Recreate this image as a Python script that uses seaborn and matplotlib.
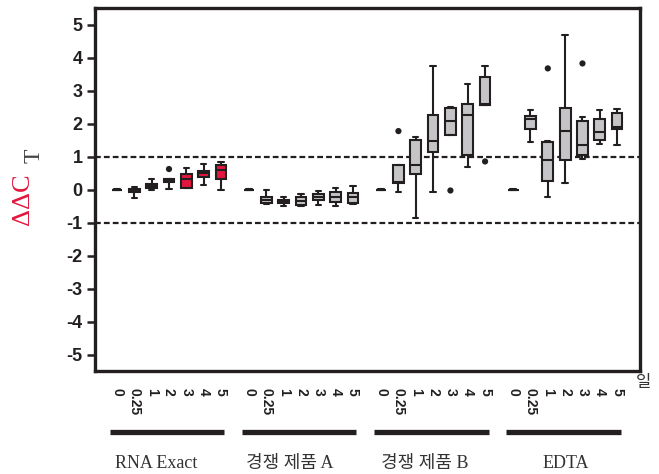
import numpy as np
import pandas as pd
import matplotlib
matplotlib.use("Agg")
import matplotlib.pyplot as plt
import seaborn as sns
from matplotlib.transforms import blended_transform_factory, ScaledTranslation

# ---------------- data ----------------
groups = ["RNA Exact", "경쟁 제품 A", "경쟁 제품 B", "EDTA"]
days = ["0", "0.25", "1", "2", "3", "4", "5"]

# five-number summaries per group (order of days)
rna_lo  = [0, -0.25, -0.02, 0.02, 0.05, 0.14, -0.02]
rna_q1  = [-0.01, -0.07, 0.05, 0.23, 0.05, 0.39, 0.33]
rna_med = [0, -0.03, 0.12, 0.29, 0.32, 0.49, 0.60]
rna_q3  = [0.01, 0.01, 0.18, 0.33, 0.48, 0.56, 0.73]
rna_hi  = [0, 0.07, 0.32, 0.33, 0.65, 0.77, 0.83]

a_lo  = [0, -0.43, -0.50, -0.50, -0.46, -0.50, -0.43]
a_q1  = [-0.01, -0.40, -0.40, -0.48, -0.31, -0.39, -0.40]
a_med = [0, -0.31, -0.35, -0.36, -0.23, -0.22, -0.23]
a_q3  = [0.01, -0.23, -0.31, -0.23, -0.15, -0.08, -0.12]
a_hi  = [0, -0.03, -0.23, -0.15, -0.05, 0.05, 0.10]

b_lo  = [0, -0.08, -0.87, -0.08, 1.65, 0.67, 2.55]
b_q1  = [-0.01, 0.20, 0.48, 1.13, 1.65, 1.05, 2.55]
b_med = [0, 0.22, 0.73, 1.47, 2.07, 2.25, 2.58]
b_q3  = [0.01, 0.74, 1.50, 2.25, 2.47, 2.60, 3.40]
b_hi  = [0, 0.74, 1.60, 3.75, 2.50, 3.20, 3.75]

e_lo  = [0, 1.45, -0.23, 0.20, 0.92, 1.38, 1.35]
e_q1  = [-0.01, 1.82, 0.27, 0.88, 1.05, 1.50, 1.83]
e_med = [0, 2.13, 0.90, 1.78, 1.35, 1.75, 1.90]
e_q3  = [0.01, 2.23, 1.43, 2.47, 2.08, 2.15, 2.32]
e_hi  = [0, 2.42, 1.48, 4.68, 2.20, 2.42, 2.44]

# outliers: (group index, day index, value)
out_group = [0, 2, 2, 2, 3, 3]
out_day   = [3, 1, 4, 6, 2, 4]
out_value = [0.62, 1.77, -0.03, 0.85, 3.67, 3.82]

# ---------------- layout helpers ----------------
GROUP_STEP = 7.62
def pos(g, i):
    return g * GROUP_STEP + i

summaries = [
    (rna_lo, rna_q1, rna_med, rna_q3, rna_hi),
    (a_lo, a_q1, a_med, a_q3, a_hi),
    (b_lo, b_q1, b_med, b_q3, b_hi),
    (e_lo, e_q1, e_med, e_q3, e_hi),
]
rows = []
for g, stats in enumerate(summaries):
    for i in range(len(days)):
        for s in stats:
            rows.append({"pos": pos(g, i), "value": s[i],
                         "kind": "red" if g == 0 else "gray"})
df = pd.DataFrame(rows)

odf = pd.DataFrame({"pos": [pos(g, i) for g, i in zip(out_group, out_day)],
                    "value": out_value})

# ---------------- figure ----------------
sns.set_style("white")
plt.rcParams["font.family"] = ["Liberation Sans", "Noto Sans CJK KR"]
DARK = "#231f20"
RED = "#e3173d"
GRAY = "#c5c5c7"

fig = plt.figure(figsize=(6.59, 4.74), dpi=100)
ax = fig.add_axes([95/659, 1-371/474, (640-95)/659, (371-8)/474])

ax.axhline(1, color=DARK, lw=1.6, ls=(0, (2.6, 1.4)), zorder=1)
ax.axhline(-1, color=DARK, lw=1.6, ls=(0, (2.6, 1.4)), zorder=1)

sns.boxplot(data=df, x="pos", y="value", hue="kind",
            palette={"red": RED, "gray": GRAY}, native_scale=True,
            dodge=False, whis=(0, 100), width=0.62, saturation=1,
            linecolor=DARK, linewidth=1.5, legend=False, ax=ax, zorder=3)
sns.scatterplot(data=odf, x="pos", y="value", color=DARK, s=20,
                edgecolor="none", legend=False, ax=ax, zorder=4)

ax.set_xlim(-1.27, 30.18)
ax.set_ylim(-5.5, 5.5)
ax.set_yticks(range(-5, 6))
ax.set_yticklabels([str(v) for v in range(-5, 6)], fontsize=13, fontweight="bold",
                   color=DARK)
ax.set_xticks([pos(g, i) for g in range(4) for i in range(len(days))])
ax.set_xticklabels(days * 4, rotation=-90, fontsize=10, fontweight="bold",
                   color=DARK)
shift = ScaledTranslation(-3/100, 0, fig.dpi_scale_trans)
for lbl in ax.get_xticklabels():
    lbl.set_transform(lbl.get_transform() + shift)
ax.tick_params(axis="x", length=0, pad=12)
ax.tick_params(axis="y", length=6, width=1.8, color=DARK, pad=3, left=True)
ax.set_xlabel("")
ax.set_ylabel("")
for sp in ax.spines.values():
    sp.set_linewidth(2.4)
    sp.set_color(DARK)

# group bars and labels below the axis
tr = blended_transform_factory(ax.transData, fig.transFigure)
label_off = [2.25, 2.37, 2.54, 3.06]
for g, name in enumerate(groups):
    ax.plot([pos(g, -0.4), pos(g, 6.2)], [1-432/474]*2, transform=tr,
            color=DARK, lw=3.8, solid_capstyle="butt", clip_on=False)
    fig.text(pos(g, label_off[g]), 1-468/474, name, transform=tr,
             ha="center", va="baseline", fontsize=13, color="#333333",
             family=["Liberation Serif", "Noto Sans CJK KR"])

fig.text(644/659, 1-383/474, "일", ha="center", va="center", fontsize=12,
         color="#333333", family=["Noto Sans CJK KR"])

# y-axis label: ΔΔC with subscript T
fig.text(23/659, 1-199/474, "ΔΔC", rotation=90, ha="center", va="center",
         fontsize=19, color=RED, family=["Liberation Serif"])
fig.text(34/659, 1-156/474, "T", rotation=90, ha="center", va="center",
         fontsize=17, color="#444444", family=["Liberation Serif"])

fig.savefig("out.png", dpi=100)
